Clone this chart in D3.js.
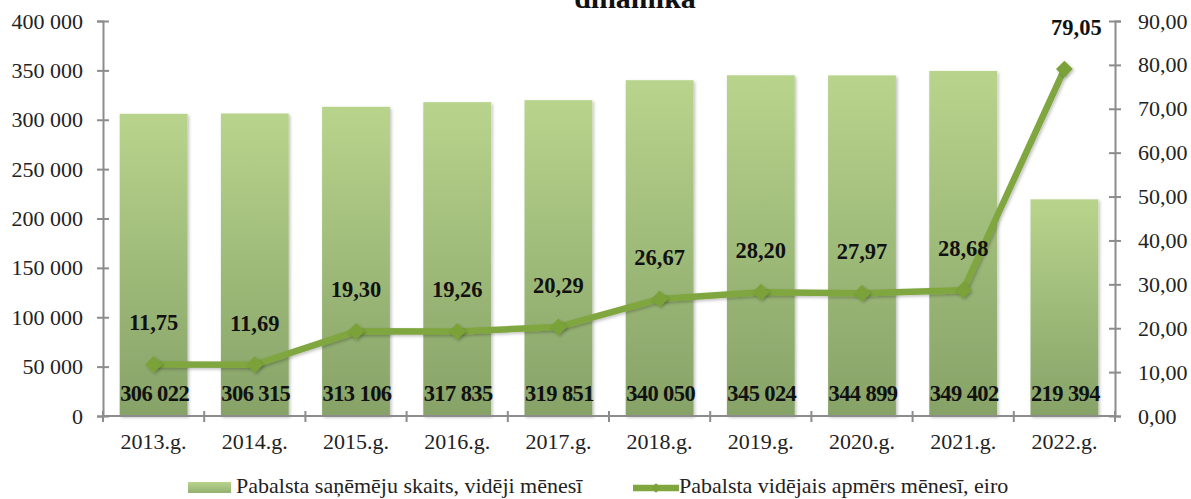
<!DOCTYPE html>
<html><head><meta charset="utf-8">
<script src="https://cdn.jsdelivr.net/npm/d3@7"></script>
<style>
body{margin:0;background:#fff;}
text{font-family:"Liberation Serif","Times New Roman",serif;}
</style></head>
<body>
<svg id="c" width="1191" height="499"></svg>
<script>
const categories = ["2013.g.","2014.g.","2015.g.","2016.g.","2017.g.","2018.g.","2019.g.","2020.g.","2021.g.","2022.g."];
const recipients = [306022,306315,313106,317835,319851,340050,345024,344899,349402,219394];
const avgAmount = [11.75,11.69,19.30,19.26,20.29,26.67,28.20,27.97,28.68,79.05];
const leftTicks = [0,50000,100000,150000,200000,250000,300000,350000,400000];
const rightTicks = [0,10,20,30,40,50,60,70,80,90];
const seriesNames = ["Pabalsta saņēmēju skaits, vidēji mēnesī","Pabalsta vidējais apmērs mēnesī, eiro"];
const titleText = "dinamika";

const svg = d3.select("#c");
const L = 103, R = 1115, T = 21, B = 416;
const x = d3.scaleBand().domain(categories).range([L,R]).paddingInner(0.33).paddingOuter(0.165);
const xb = d3.scaleBand().domain(categories).range([L,R]);
const yL = d3.scaleLinear().domain([0,400000]).range([B,T]);
const yR = d3.scaleLinear().domain([0,90]).range([B,T]);

const fmtInt = v => d3.format(",")(v).replace(/,/g," ");
const fmtDec = v => d3.format(".2f")(v).replace(".",",");

const defs = svg.append("defs");
const g1 = defs.append("linearGradient").attr("id","barG").attr("x1",0).attr("y1",0).attr("x2",0).attr("y2",1);
g1.append("stop").attr("offset","0%").attr("stop-color","#b8d48c");
g1.append("stop").attr("offset","100%").attr("stop-color","#86a267");
const gl = defs.append("linearGradient").attr("id","legG").attr("x1",0).attr("y1",0).attr("x2",0).attr("y2",1);
gl.append("stop").attr("offset","0%").attr("stop-color","#b8d48c");
gl.append("stop").attr("offset","100%").attr("stop-color","#94b072");
const f = defs.append("filter").attr("id","sh").attr("x","-20%").attr("y","-20%").attr("width","140%").attr("height","140%");
f.append("feDropShadow").attr("dx",1.5).attr("dy",1.5).attr("stdDeviation",1.5).attr("flood-color","#000").attr("flood-opacity",0.25);

// title (visible part, clipped at top as in the reference)
svg.append("text").attr("x",635).attr("y",8).attr("text-anchor","middle")
  .attr("font-size",30).attr("font-weight","bold").attr("fill","#111").text(titleText);

// bars
svg.append("g").selectAll("rect").data(recipients).join("rect")
  .attr("x",(d,i)=>x(categories[i])).attr("width",x.bandwidth())
  .attr("y",d=>yL(d)).attr("height",d=>B-yL(d))
  .attr("fill","url(#barG)").attr("filter","url(#sh)");

// axes
const axisColor = "#8c8c8c";
const gl_ = svg.append("g").attr("transform",`translate(${L},0)`)
  .call(d3.axisLeft(yL).tickValues(leftTicks).tickFormat(fmtInt).tickSize(6).tickPadding(14));
const gr_ = svg.append("g").attr("transform",`translate(${R},0)`)
  .call(d3.axisRight(yR).tickValues(rightTicks).tickFormat(fmtDec).tickSize(6).tickPadding(17));
const gx_ = svg.append("g").attr("transform",`translate(0,${B})`)
  .call(d3.axisBottom(xb).tickSize(0).tickPadding(17));
[gl_,gr_,gx_].forEach(g=>{
  g.attr("font-family",null);
  g.select(".domain").attr("stroke",axisColor).attr("stroke-width",2);
  g.selectAll(".tick line").attr("stroke",axisColor).attr("stroke-width",2);
  g.selectAll(".tick text").attr("font-size",22).attr("fill","#222");
});
gl_.selectAll(".tick line").attr("x1",6);
gr_.selectAll(".tick line").attr("x1",-6);
gx_.select(".domain").attr("d",`M${L},0H${R}`);
// x cross ticks at band boundaries
const bounds = categories.map(c=>xb(c)).concat([R]);
svg.append("g").selectAll("line").data(bounds).join("line")
  .attr("x1",d=>d).attr("x2",d=>d).attr("y1",B-5).attr("y2",B+6)
  .attr("stroke",axisColor).attr("stroke-width",2);

// bar value labels
svg.append("g").selectAll("text").data(recipients).join("text")
  .attr("x",(d,i)=>xb(categories[i])+xb.bandwidth()/2+1).attr("y",B-15)
  .attr("text-anchor","middle").attr("font-size",22.5).attr("font-weight","bold").attr("fill","#111")
  .attr("letter-spacing","-0.6").text(fmtInt);

// line
const cx = i => xb(categories[i])+xb.bandwidth()/2;
const line = d3.line().x((d,i)=>cx(i)).y(d=>yR(d));
svg.append("path").datum(avgAmount).attr("d",line).attr("fill","none")
  .attr("stroke","#80a640").attr("stroke-width",6.5).attr("stroke-linejoin","round").attr("filter","url(#sh)");
const sym = d3.symbol().type(d3.symbolDiamond2).size(180);
svg.append("g").selectAll("path").data(avgAmount).join("path")
  .attr("transform",(d,i)=>`translate(${cx(i)},${yR(d)})`).attr("d",sym)
  .attr("fill","#7aa237").attr("filter","url(#sh)");

// line value labels
svg.append("g").selectAll("text").data(avgAmount).join("text")
  .attr("x",(d,i)=>cx(i)+(i===9?12:0)).attr("y",d=>yR(d)-34)
  .attr("text-anchor","middle").attr("font-size",22.5).attr("font-weight","bold").attr("fill","#111")
  .text(fmtDec);

// legend
const leg = svg.append("g");
leg.append("rect").attr("x",188).attr("y",482).attr("width",43).attr("height",11).attr("fill","url(#legG)");
leg.append("text").attr("x",236).attr("y",493).attr("font-size",22).attr("fill","#222").text(seriesNames[0]);
leg.append("line").attr("x1",633).attr("x2",679).attr("y1",488).attr("y2",488).attr("stroke","#80a640").attr("stroke-width",6.5);
leg.append("path").attr("transform","translate(656,488)").attr("d",d3.symbol().type(d3.symbolDiamond2).size(60)).attr("fill","#7aa237");
leg.append("text").attr("x",679).attr("y",493).attr("font-size",22).attr("fill","#222").text(seriesNames[1]);
</script>
</body></html>
